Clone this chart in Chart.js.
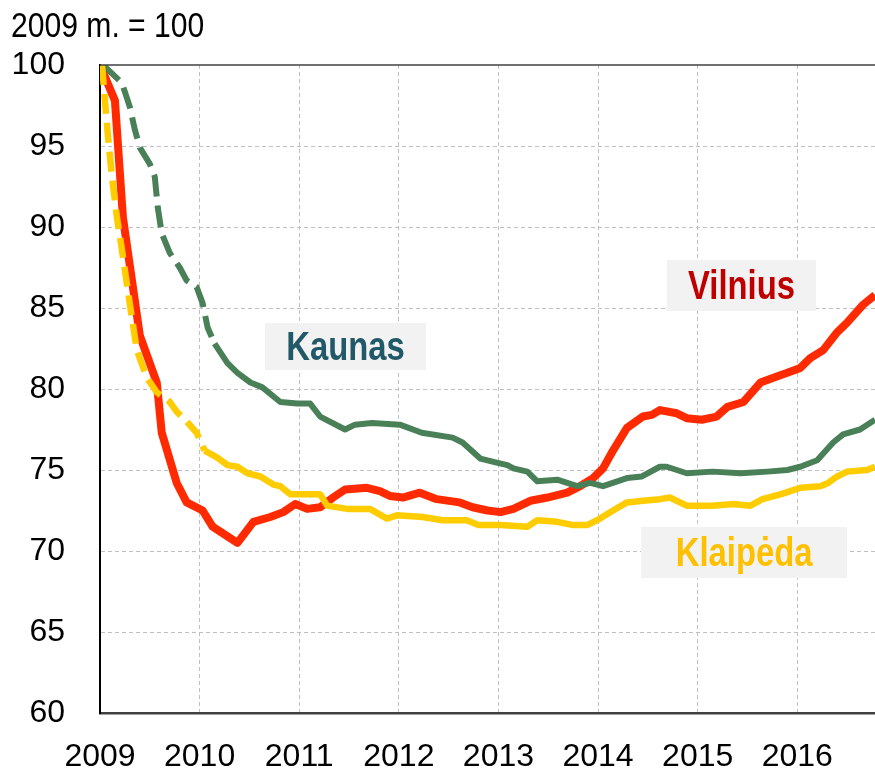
<!DOCTYPE html>
<html>
<head>
<meta charset="utf-8">
<script src="https://cdn.jsdelivr.net/npm/chart.js@4"></script>
<style>
    html, body { margin: 0; padding: 0; background: #fff; }
    #wrap { width: 875px; height: 779px; position: relative; }
</style>
</head>
<body>
<div id="wrap"><canvas id="priceChart" width="875" height="779"></canvas></div>
<script>
'use strict';

// Būsto kainų indeksas, 2009 m. = 100

var yearTicks = [2009, 2010, 2011, 2012, 2013, 2014, 2015, 2016];

var vilniusYears = [2009.00, 2009.15, 2009.23, 2009.40, 2009.57, 2009.62, 2009.77, 2009.87, 2010.03, 2010.13,
    2010.38, 2010.54, 2010.71, 2010.84, 2010.96, 2011.08, 2011.21, 2011.34, 2011.46, 2011.68,
    2011.81, 2011.91, 2012.04, 2012.21, 2012.38, 2012.61, 2012.74, 2012.89, 2013.02, 2013.15,
    2013.32, 2013.49, 2013.69, 2013.82, 2013.95, 2014.05, 2014.15, 2014.29, 2014.45, 2014.54,
    2014.62, 2014.79, 2014.89, 2015.04, 2015.19, 2015.30, 2015.46, 2015.63, 2015.76, 2015.90,
    2016.03, 2016.13, 2016.26, 2016.40, 2016.50, 2016.66, 2016.78];
var vilniusValues = [100, 97.8, 90.6, 83.3, 80.4, 77.3, 74.2, 73.0, 72.5, 71.5,
    70.5, 71.8, 72.1, 72.4, 72.9, 72.6, 72.7, 73.3, 73.8, 73.9,
    73.7, 73.4, 73.3, 73.6, 73.2, 73.0, 72.7, 72.5, 72.4, 72.6,
    73.1, 73.3, 73.6, 74.0, 74.5, 75.1, 76.2, 77.6, 78.3, 78.4,
    78.7, 78.5, 78.2, 78.1, 78.3, 78.9, 79.2, 80.4, 80.7, 81.0,
    81.3, 81.9, 82.4, 83.5, 84.1, 85.2, 85.8];

var kaunasYears = [2009.03, 2009.22, 2009.30, 2009.35, 2009.40, 2009.50, 2009.55, 2009.58, 2009.62, 2009.70,
    2009.80, 2009.87, 2009.97, 2010.03, 2010.08, 2010.15, 2010.28, 2010.38, 2010.51, 2010.63,
    2010.81, 2010.98, 2011.11, 2011.21, 2011.46, 2011.56, 2011.73, 2012.01, 2012.23, 2012.54,
    2012.64, 2012.82, 2012.95, 2013.09, 2013.15, 2013.29, 2013.39, 2013.59, 2013.69, 2013.79,
    2013.92, 2014.05, 2014.29, 2014.44, 2014.62, 2014.69, 2014.89, 2015.15, 2015.43, 2015.70,
    2015.90, 2016.03, 2016.20, 2016.36, 2016.46, 2016.63, 2016.73, 2016.78];
var kaunasValues = [100, 98.9, 97.4, 96.0, 94.9, 93.9, 93.1, 91.2, 89.6, 88.4,
    87.5, 86.7, 86.3, 85.3, 83.8, 82.8, 81.6, 81.0, 80.4, 80.1,
    79.2, 79.1, 79.1, 78.3, 77.5, 77.8, 77.9, 77.8, 77.3, 77.0,
    76.7, 75.7, 75.5, 75.3, 75.1, 74.9, 74.3, 74.4, 74.2, 74.0,
    74.2, 74.0, 74.5, 74.6, 75.2, 75.2, 74.8, 74.9, 74.8, 74.9,
    75.0, 75.2, 75.6, 76.7, 77.2, 77.5, 77.9, 78.1];

var klaipedaYears = [2009.02, 2009.05, 2009.08, 2009.12, 2009.17, 2009.22, 2009.27, 2009.32, 2009.37, 2009.47,
    2009.57, 2009.70, 2009.77, 2009.87, 2009.97, 2010.05, 2010.17, 2010.28, 2010.38, 2010.48,
    2010.61, 2010.74, 2010.81, 2010.91, 2011.21, 2011.28, 2011.48, 2011.71, 2011.88, 2011.98,
    2012.24, 2012.44, 2012.68, 2012.80, 2013.02, 2013.29, 2013.39, 2013.59, 2013.75, 2013.89,
    2014.02, 2014.15, 2014.29, 2014.45, 2014.62, 2014.72, 2014.89, 2015.15, 2015.36, 2015.53,
    2015.65, 2015.83, 2016.03, 2016.23, 2016.31, 2016.40, 2016.50, 2016.70, 2016.78];
var klaipedaValues = [100, 97.8, 95.6, 93.1, 90.6, 88.6, 86.5, 84.4, 82.4, 80.7,
    79.8, 79.2, 78.6, 78.0, 77.3, 76.2, 75.8, 75.3, 75.2, 74.8,
    74.6, 74.1, 74.0, 73.5, 73.5, 72.8, 72.6, 72.6, 72.0, 72.2,
    72.1, 71.9, 71.9, 71.6, 71.6, 71.5, 71.9, 71.8, 71.6, 71.6,
    72.0, 72.5, 73.0, 73.1, 73.2, 73.3, 72.8, 72.8, 72.9, 72.8,
    73.2, 73.5, 73.9, 74.0, 74.2, 74.6, 74.9, 75.0, 75.2];

// iki kada linija punktyrinė (preliminarūs duomenys)
var kaunasDashedUntil = 2010.15;
var klaipedaDashedUntil = 2010.05;

var FONT = "'Liberation Sans', Arial, sans-serif";

// Užrašai prie linijų (centras duomenų koordinatėmis)
var cityLabels = [
    { text: 'Kaunas', x: 2011.465, y: 82.62, w: 161, h: 47, color: '#215968' },
    { text: 'Vilnius', x: 2015.44, y: 86.39, w: 149, h: 51, color: '#C00000' },
    { text: 'Klaipėda', x: 2015.466, y: 69.91, w: 206, h: 51, color: '#FFC000' }
];

function toPoints(xs, ys) {
    return xs.map(function(x, i) {
        return { x: x, y: ys[i] };
    });
}

function dashUntil(limit, dash) {
    return function(ctx) {
        return ctx.p1.parsed.x <= limit ? dash : undefined;
    };
}

// siauresnis tekstas (originale naudotas Arial Narrow)
function narrowText(ctx, text, x, y, squeeze) {
    ctx.save();
    ctx.translate(x, y);
    ctx.scale(squeeze, 1);
    ctx.fillText(text, 0, 0);
    ctx.restore();
}

// papildomas piešimas: antraštė, viršutinė riba, užrašai
var decorPlugin = {
    id: 'decor',
    afterDraw: function(chart) {
        var ctx = chart.ctx;
        var area = chart.chartArea;
        var xs = chart.scales.x;
        var ys = chart.scales.y;

        ctx.save();
        // viršutinė rėmo linija
        ctx.strokeStyle = '#404040';
        ctx.lineWidth = 1.5;
        ctx.beginPath();
        ctx.moveTo(area.left, area.top);
        ctx.lineTo(area.right, area.top);
        ctx.stroke();

        // antraštė
        ctx.fillStyle = '#000';
        ctx.font = '35px ' + FONT;
        ctx.textAlign = 'left';
        ctx.textBaseline = 'alphabetic';
        narrowText(ctx, '2009 m. = 100', 11, 37, 0.86);

        // miestų užrašai
        cityLabels.forEach(function(lbl) {
            var cx = xs.getPixelForValue(lbl.x);
            var cy = ys.getPixelForValue(lbl.y);
            ctx.fillStyle = '#F2F2F2';
            ctx.fillRect(cx - lbl.w / 2, cy - lbl.h / 2, lbl.w, lbl.h);
            ctx.fillStyle = lbl.color;
            ctx.font = 'bold 41px ' + FONT;
            ctx.textAlign = 'center';
            ctx.textBaseline = 'middle';
            narrowText(ctx, lbl.text, cx, cy + 2, 0.8);
        });
        ctx.restore();
    }
};

var chart = new Chart(document.getElementById('priceChart'), {
    type: 'line',
    data: {
        datasets: [
            {
                label: 'Klaipėda',
                data: toPoints(klaipedaYears, klaipedaValues),
                borderColor: '#FFCC00',
                borderWidth: 6.5,
                order: 1,
                segment: { borderDash: dashUntil(klaipedaDashedUntil, [20, 9]) }
            },
            {
                label: 'Kaunas',
                data: toPoints(kaunasYears, kaunasValues),
                borderColor: '#4A8058',
                borderWidth: 6,
                order: 2,
                segment: { borderDash: dashUntil(kaunasDashedUntil, [22, 9]) }
            },
            {
                label: 'Vilnius',
                data: toPoints(vilniusYears, vilniusValues),
                borderColor: '#FF2A00',
                borderWidth: 8,
                order: 3
            }
        ]
    },
    options: {
        responsive: false,
        animation: false,
        events: [],
        layout: { padding: { top: 65, left: 0, right: 0, bottom: 0 } },
        elements: {
            point: { radius: 0 },
            line: { tension: 0, borderJoinStyle: 'round', fill: false }
        },
        plugins: {
            legend: { display: false },
            tooltip: { enabled: false },
            title: { display: false }
        },
        scales: {
            x: {
                type: 'linear',
                min: 2009,
                max: 2016.78,
                afterBuildTicks: function(scale) {
                    scale.ticks = yearTicks.map(function(v) { return { value: v }; });
                },
                afterFit: function(scale) { scale.height = 66; },
                grid: {
                    color: function(c) { return c.tick && c.tick.value === 2009 ? 'rgba(0,0,0,0)' : '#C0C0C0'; },
                    lineWidth: 1,
                    drawTicks: false
                },
                border: { display: true, color: '#404040', width: 2.5, dash: [4, 3] },
                ticks: {
                    padding: 25,
                    color: '#000',
                    font: { family: FONT, size: 32 },
                    maxRotation: 0,
                    autoSkip: false,
                    callback: function(v) { return String(v); }
                }
            },
            y: {
                min: 60,
                max: 100,
                afterFit: function(scale) { scale.width = 100; },
                grid: {
                    color: function(c) { return c.tick && (c.tick.value === 60 || c.tick.value === 100) ? 'rgba(0,0,0,0)' : '#C0C0C0'; },
                    lineWidth: 1,
                    drawTicks: false
                },
                border: { display: true, color: '#000', width: 2, dash: [4, 3] },
                ticks: {
                    stepSize: 5,
                    padding: 35,
                    color: '#000',
                    font: { family: FONT, size: 32 }
                }
            }
        }
    },
    plugins: [decorPlugin]
});
</script>
</body>
</html>
